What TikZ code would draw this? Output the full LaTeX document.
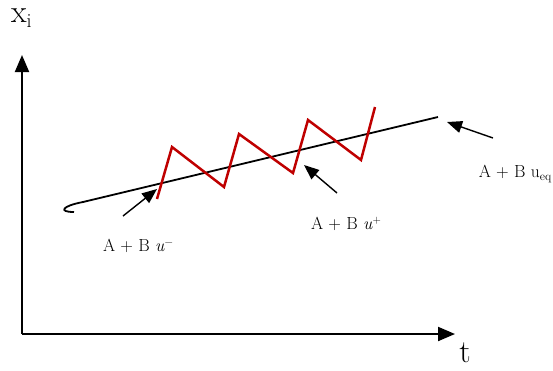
\documentclass[tikz,border=0pt]{standalone}
\usepackage{fontspec}
\usetikzlibrary{arrows.meta}
\newcommand\myup[1]{\raisebox{0.8ex}{\fontsize{11}{11}\selectfont #1}}
\newcommand\mydn[1]{\raisebox{-0.45ex}{\fontsize{12}{12}\selectfont #1}}
\begin{document}
\begin{tikzpicture}[x=1pt,y=-1pt,
  axis/.style={line width=2pt,-{Triangle[length=17pt,width=14pt]}},
  ptr/.style={line width=1.4pt,-{Triangle[length=15pt,width=12pt]}},
  lbl/.style={font=\fontsize{17.5}{20}\selectfont,inner sep=0pt},
  big/.style={font=\fontsize{32}{34}\selectfont,inner sep=0pt}]
\useasboundingbox (0,0) rectangle (553,370);
% axes
\coordinate (o) at (22,334);
\coordinate (ytop) at (22,55);
\coordinate (xend) at (455,334);
\draw[axis] (o) -- (ytop);
\draw[axis] (o) -- (xend);
\node[big,anchor=base west] (xi) at (11,22) {x\raisebox{-0.18em}{\fontsize{20}{20}\selectfont i}};
\node[big,anchor=base] (t) at (465,362) {t};
% equilibrium line with hook
\coordinate (h0) at (74,212);
\coordinate (h1) at (83,202);
\coordinate (lend) at (438,117);
\draw[line width=1.8pt] (h0) .. controls (58,212) and (62,206) .. (h1) -- (lend);
% red zigzag
\coordinate (z0) at (157,199);
\coordinate (z1) at (172,147);
\coordinate (z2) at (224,187);
\coordinate (z3) at (239,134);
\coordinate (z4) at (293,173);
\coordinate (z5) at (308,120);
\coordinate (z6) at (361,160);
\coordinate (z7) at (375,107);
\draw[line width=2.5pt,red!75!black,line join=miter] (z0)--(z1)--(z2)--(z3)--(z4)--(z5)--(z6)--(z7);
% pointers
\coordinate (a1s) at (123,216); \coordinate (a1e) at (157,189);
\coordinate (a2s) at (337,193); \coordinate (a2e) at (304,165);
\coordinate (a3s) at (493,138); \coordinate (a3e) at (447,122);
\draw[ptr] (a1s) -- (a1e);
\draw[ptr] (a2s) -- (a2e);
\draw[ptr] (a3s) -- (a3e);
% labels
\node[lbl] (l1) at (138,246) {A + B \textit{u}\myup{−}};
\node[lbl] (l2) at (346,224) {A + B \textit{u}\myup{+}};
\node[lbl] (l3) at (515,174) {A + B u\mydn{eq}};
\end{tikzpicture}
\end{document}
